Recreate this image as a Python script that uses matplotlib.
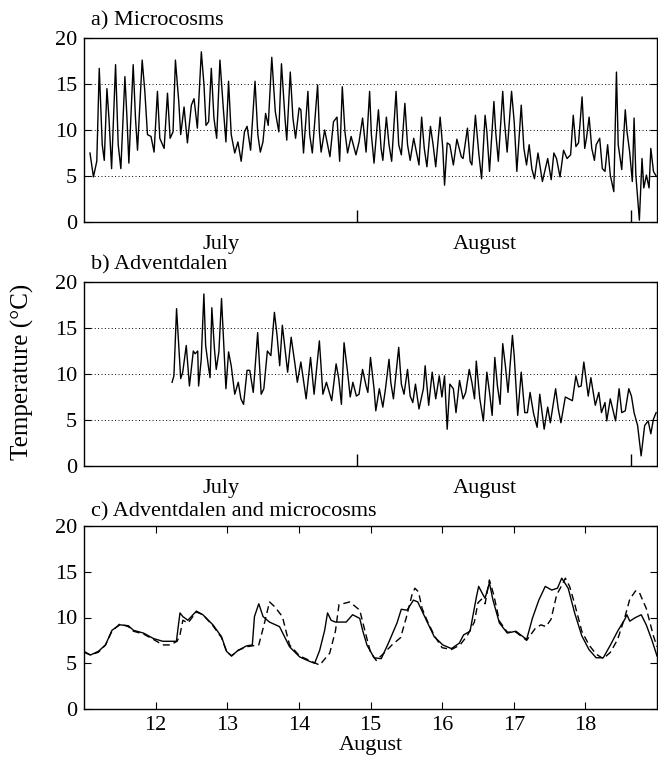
import numpy as np
import matplotlib
matplotlib.use('Agg')
import matplotlib.pyplot as plt

plt.rcParams['font.family'] = 'serif'
plt.rcParams['font.serif'] = ['Liberation Serif', 'DejaVu Serif']

# days since 1 July (panels a, b)
micro_day = [0.68, 1.07, 1.45, 1.73, 2.07, 2.3, 2.6, 2.83, 3.13, 3.58, 3.88, 4.18, 4.64, 4.86,
             5.09, 5.58, 5.84, 6.07, 6.6, 6.9, 7.2, 7.6, 7.95, 8.33, 8.6, 9.09, 9.47, 9.77,
             10.1, 10.37, 10.75, 10.97, 11.35, 11.73, 12.18, 12.48, 12.86, 13.31, 13.61, 13.84,
             14.14, 14.44, 14.74, 15.05, 15.42, 15.8, 16.1, 16.4, 16.7, 17.1, 17.46, 17.83,
             18.2, 18.5, 18.9, 19.4, 19.72, 20.0, 20.3, 20.6, 20.9, 21.3, 21.7, 22.1, 22.4,
             22.8, 23.0, 23.4, 23.7, 24.0, 24.4, 24.6, 24.9, 25.4, 25.6, 25.9, 26.5, 26.7,
             26.9, 27.3, 27.9, 28.3, 28.7, 29.0, 29.3, 29.6, 29.9, 30.3, 30.85, 31.2, 31.6,
             32.0, 32.4, 32.6, 32.9, 33.4, 33.7, 33.9, 34.3, 34.6, 34.9, 35.4, 35.7, 36.0,
             36.4, 36.7, 37.0, 37.4, 38.0, 38.3, 38.6, 38.9, 39.3, 39.6, 39.9, 40.4, 40.7,
             40.9, 41.2, 41.5, 41.9, 42.3, 42.8, 43.0, 43.5, 43.8, 44.0, 44.4, 44.8, 45.1,
             45.5, 45.7, 46.0, 46.5, 46.7, 47.0, 47.5, 47.7, 48.0, 48.5, 48.8, 49.1, 49.6,
             49.9, 50.2, 50.5, 50.8, 51.1, 51.5, 52.0, 52.6, 53.0, 53.3, 53.6, 54.0, 54.4,
             54.8, 55.2, 55.5, 55.8, 56.1, 56.5, 56.8, 57.0, 57.3, 57.6, 57.9, 58.1, 58.5,
             58.8, 59.1, 59.4, 59.7, 60.1, 60.4, 60.6, 61.0, 61.4, 61.6, 61.9, 62.2, 62.4,
             62.6, 63.0, 63.3, 63.5, 63.8, 64.1, 64.3, 64.6, 64.9]
micro_temp = [7.5, 4.9, 6.6, 16.7, 8.4, 6.7, 14.5, 11.3, 5.8, 17.1, 8.4, 5.8, 15.8, 11.6,
              6.4, 17.1, 11.3, 7.8, 17.6, 14.2, 9.5, 9.3, 7.6, 14.2, 9.1, 8.0, 14.0, 9.1,
              9.8, 17.6, 13.1, 9.5, 12.5, 8.6, 12.7, 13.4, 10.2, 18.5, 14.9, 10.5,
              10.9, 16.7, 11.3, 9.1, 17.6, 12.4, 8.7, 15.3, 9.5, 7.5, 8.7, 6.6,
              9.8, 10.4, 7.8, 15.3, 9.5, 7.6, 8.7, 11.8, 10.5, 17.9, 12.0, 9.8, 17.2,
              11.3, 8.9, 16.3, 11.3, 9.1, 12.4, 12.2, 7.5, 14.2, 9.5, 7.5, 14.9, 9.8,
              7.6, 10.0, 7.1, 10.9, 11.4, 6.6, 14.7, 9.8, 7.5, 9.3, 7.3, 8.7, 11.3,
              7.6, 14.2, 9.5, 6.4, 12.2, 8.0, 6.7, 11.4, 8.4, 6.6, 14.2, 8.4, 7.3,
              12.9, 8.4, 6.7, 9.1, 6.2, 11.4, 8.0, 6.0, 10.4, 8.4, 6.0, 11.4, 8.0,
              4.0, 8.6, 8.4, 6.2, 9.0, 7.1, 6.9, 10.2, 6.6, 6.2, 11.6, 7.3, 4.7,
              11.6, 9.8, 5.5, 13.1, 9.8, 6.6, 14.2, 10.9, 7.6, 14.2, 10.9, 5.5, 12.7,
              8.0, 6.2, 8.4, 5.8, 4.7, 7.5, 4.4, 6.9, 4.6, 7.5, 6.9, 4.9, 7.8,
              6.9, 7.3, 11.6, 8.2, 8.6, 13.6, 8.0, 9.1, 11.4, 8.0, 6.7, 8.4, 9.1,
              5.8, 5.5, 8.4, 5.1, 3.3, 16.3, 8.4, 5.7, 12.2, 9.8, 7.6, 4.4, 11.3,
              5.1, 0.2, 6.9, 3.7, 5.1, 3.7, 8.0, 5.5, 5.0]

adv_day = [9.99, 10.2, 10.5, 10.7, 10.97, 11.2, 11.6, 11.96, 12.4, 12.6, 12.9, 13.0, 13.3,
           13.6, 13.8, 14.1, 14.3, 14.5, 14.8, 15.0, 15.3, 15.6, 15.8, 16.1, 16.4, 16.7,
           17.1, 17.5, 17.8, 18.1, 18.5, 18.8, 19.2, 19.7, 20.1, 20.4, 20.8, 21.2, 21.6,
           21.9, 22.2, 22.5, 22.8, 23.1, 23.5, 23.9, 24.2, 24.6, 25.2, 25.7, 26.1, 26.7,
           27.1, 27.5, 28.1, 28.6, 28.9, 29.2, 29.5, 29.9, 30.2, 30.5, 30.9, 31.2, 31.6,
           32.0, 32.2, 32.5, 32.9, 33.1, 33.5, 33.9, 34.2, 34.6, 34.8, 35.1, 35.7, 36.0,
           36.3, 36.7, 37.0, 37.3, 37.6, 38.0, 38.5, 38.7, 39.1, 39.5, 39.9, 40.3, 40.6,
           40.9, 41.2, 41.5, 41.9, 42.2, 42.6, 43.0, 43.3, 43.7, 44.0, 44.3, 44.5, 44.9,
           45.3, 45.7, 46.0, 46.3, 46.6, 46.9, 47.2, 47.5, 47.8, 48.1, 48.6, 48.8, 49.2,
           49.6, 50.0, 50.3, 50.6, 51.0, 51.4, 51.7, 52.2, 52.6, 52.9, 53.5, 53.8, 54.1,
           54.6, 55.0, 55.4, 55.8, 56.1, 56.4, 56.7, 57.2, 57.5, 58.0, 58.4, 58.7, 59.1,
           59.3, 59.7, 60.3, 60.7, 61.0, 61.4, 61.8, 62.1, 62.4, 62.8, 63.2, 63.6, 64.0,
           64.3, 64.6, 64.9]
adv_temp = [9.1, 9.8, 17.1, 13.8, 9.5, 10.2, 13.1, 8.7, 12.5, 12.2, 12.5, 8.7, 11.6,
            18.7, 13.1, 10.9, 9.6, 17.2, 12.7, 10.5, 12.4, 18.2, 14.2, 8.4, 12.4, 10.9,
            7.8, 9.1, 7.3, 6.7, 10.4, 10.4, 8.0, 14.5, 7.8, 8.4, 12.5, 12.0, 16.7,
            14.2, 10.9, 15.3, 12.7, 10.2, 14.0, 11.3, 9.1, 11.3, 7.3, 11.8, 7.8, 13.6,
            7.8, 9.1, 7.1, 11.1, 9.5, 6.7, 13.4, 10.2, 7.5, 9.1, 7.6, 7.8, 10.5,
            8.7, 8.0, 11.8, 8.4, 6.0, 8.4, 6.4, 8.4, 11.6, 9.1, 7.3, 12.9, 8.9,
            7.8, 10.5, 7.6, 6.9, 8.9, 6.2, 8.4, 10.9, 6.6, 10.2, 7.3, 9.8, 7.5,
            9.8, 4.0, 8.9, 8.4, 5.8, 9.3, 7.3, 8.0, 10.5, 9.1, 7.3, 11.4, 7.3,
            4.9, 10.2, 8.0, 5.5, 11.8, 8.7, 6.7, 13.3, 10.9, 8.0, 14.2, 12.0, 5.5,
            10.2, 5.8, 5.8, 8.0, 5.7, 4.2, 7.8, 4.0, 6.4, 4.7, 8.4, 6.2, 4.7,
            7.5, 7.3, 7.1, 9.8, 8.6, 8.7, 11.3, 7.6, 9.6, 6.6, 8.0, 5.8, 6.9,
            4.9, 7.3, 4.9, 8.4, 5.8, 6.0, 8.4, 7.6, 5.8, 4.4, 1.1, 4.4, 4.9,
            3.5, 5.1, 5.8]

# panel c, day of August
c_adv_day = [11.0, 11.09, 11.2, 11.3, 11.39, 11.5, 11.62, 11.69, 11.83, 11.97, 12.1, 12.29,
             12.34, 12.38, 12.45, 12.57, 12.66, 12.8, 12.92, 12.99, 13.06, 13.15, 13.27,
             13.35, 13.38, 13.44, 13.5, 13.59, 13.73, 13.87, 14.01, 14.15, 14.22, 14.29,
             14.36, 14.4, 14.45, 14.51, 14.66, 14.75, 14.85, 14.89, 14.95, 15.05, 15.15,
             15.25, 15.37, 15.43, 15.51, 15.6, 15.66, 15.78, 15.89, 16.01, 16.13, 16.24,
             16.3, 16.39, 16.48, 16.51, 16.57, 16.6, 16.66, 16.71, 16.8, 16.91, 17.03,
             17.18, 17.26, 17.35, 17.44, 17.53, 17.61, 17.67, 17.76, 17.85, 17.95, 18.05,
             18.15, 18.25, 18.35, 18.45, 18.55, 18.58, 18.62, 18.7, 18.78, 18.85, 18.93, 19.0]
c_adv_temp = [6.3, 5.9, 6.3, 7.0, 8.6, 9.2, 9.1, 8.6, 8.3, 7.7, 7.4, 7.4,
              10.5, 10.1, 9.7, 10.7, 10.3, 9.2, 7.9, 6.3, 5.8, 6.4, 6.9,
              7.0, 10.1, 11.5, 10.1, 9.5, 9.0, 6.8, 5.7, 5.2, 5.0, 6.4,
              8.6, 10.5, 9.7, 9.5, 9.5, 10.3, 9.9, 8.6, 7.0, 5.6, 5.5,
              7.2, 9.4, 10.9, 10.8, 11.9, 11.7, 9.7, 7.9, 7.0, 6.6, 7.2,
              8.1, 8.5, 12.3, 13.4, 12.5, 12.1, 13.8, 11.9, 9.4, 8.3, 8.5,
              7.6, 9.9, 11.9, 13.4, 13.0, 13.2, 14.3, 13.2, 10.5, 8.0, 6.5,
              5.6, 5.6, 7.0, 8.5, 9.8, 10.3, 9.6, 10.0, 10.3, 9.2, 7.5, 5.8]

c_mic_day = [11.0, 11.09, 11.2, 11.3, 11.39, 11.5, 11.62, 11.69, 11.83, 11.97, 12.1, 12.2,
             12.3, 12.34, 12.38, 12.45, 12.57, 12.66, 12.8, 12.92, 12.99, 13.06, 13.15,
             13.27, 13.35, 13.44, 13.52, 13.59, 13.66, 13.77, 13.84, 13.87, 14.01, 14.15,
             14.29, 14.43, 14.51, 14.56, 14.71, 14.85, 14.92, 15.0, 15.08, 15.2, 15.3,
             15.42, 15.5, 15.58, 15.62, 15.67, 15.72, 15.8, 15.9, 16.0, 16.13, 16.25,
             16.35, 16.45, 16.5, 16.55, 16.6, 16.66, 16.72, 16.8, 16.91, 17.03, 17.18,
             17.3, 17.38, 17.45, 17.52, 17.6, 17.67, 17.72, 17.78, 17.85, 17.95, 18.05,
             18.15, 18.25, 18.35, 18.45, 18.55, 18.62, 18.7, 18.75, 18.85, 18.95, 19.0]
c_mic_temp = [6.2, 5.9, 6.2, 7.0, 8.5, 9.3, 9.0, 8.5, 8.2, 7.6, 7.0, 7.0,
              7.4, 8.1, 9.7, 9.4, 10.6, 10.3, 9.1, 7.8, 6.3, 5.8, 6.4,
              6.8, 6.9, 7.0, 9.4, 11.7, 11.2, 10.1, 7.9, 7.0, 5.8, 5.3,
              4.8, 6.1, 8.5, 11.4, 11.7, 10.8, 8.6, 6.2, 5.3, 6.2, 7.0,
              7.8, 10.0, 12.5, 13.2, 12.8, 11.0, 9.5, 7.9, 6.7, 6.5, 7.0,
              8.0, 9.5, 11.6, 12.0, 11.5, 14.1, 12.5, 9.6, 8.4, 8.4, 7.5,
              8.8, 9.2, 9.0, 9.8, 12.5, 13.5, 14.3, 13.4, 11.5, 8.5, 7.0,
              6.0, 5.5, 6.2, 7.6, 10.0, 12.0, 12.9, 12.8, 11.0, 8.0, 6.8]

month_pos = [15.5, 45.5]
month_names = ['July', 'August']
month_edges = [31, 62]
c_ticks = [12, 13, 14, 15, 16, 17, 18]

W, H = 658., 759.
fig = plt.figure(figsize=(W/100, H/100), dpi=100)

def make_ax(top, bottom):
    return fig.add_axes([84/W, 1-bottom/H, 573/W, (bottom-top)/H])

ax1 = make_ax(38, 222)
ax2 = make_ax(282, 466)
ax3 = make_ax(526, 709)

for ax, d, t, title in [(ax1, micro_day, micro_temp, 'a) Microcosms'),
                        (ax2, adv_day, adv_temp, 'b) Adventdalen')]:
    ax.plot(d, t, color='black', lw=1.0)
    ax.set_xlim(0, 65)
    ax.set_ylim(0, 20)
    ax.set_yticks([0, 5, 10, 15, 20])
    for g in [5, 10, 15]:
        ax.axhline(g, color='black', lw=0.7, ls=(0, (1, 2.5)), zorder=0)
    ax.set_xticks(month_pos)
    ax.set_xticklabels(month_names)
    ax.set_xticks(month_edges, minor=True)
    ax.tick_params(axis='x', which='major', length=0, pad=9, labelsize=16)
    ax.tick_params(axis='x', which='minor', direction='in', length=9, width=1)
    ax.tick_params(axis='y', direction='in', length=5, right=True, labelsize=16, pad=5)
    ax.text(0.012, 1.04, title, transform=ax.transAxes, fontsize=16, va='bottom')

ax3.plot(c_adv_day, c_adv_temp, color='black', lw=1.0)
ax3.plot(c_mic_day, c_mic_temp, color='black', lw=1.0, ls=(0, (5, 3)))
ax3.set_xlim(11, 19)
ax3.set_ylim(0, 20)
ax3.set_yticks([0, 5, 10, 15, 20])
ax3.set_xticks(c_ticks)
ax3.tick_params(direction='in', length=5, right=True, top=True, labelsize=16, pad=5)
ax3.set_xlabel('August', fontsize=16, labelpad=1)
ax3.text(0.012, 1.025, 'c) Adventdalen and microcosms', transform=ax3.transAxes,
         fontsize=16, va='bottom')

for ax in [ax1, ax2, ax3]:
    for s in ax.spines.values():
        s.set_linewidth(1.0)

fig.text(22/W, 1-372/H, 'Temperature (\u00b0C)', rotation=90, fontsize=18,
         ha='center', va='center')

fig.savefig('out.png', dpi=100)
